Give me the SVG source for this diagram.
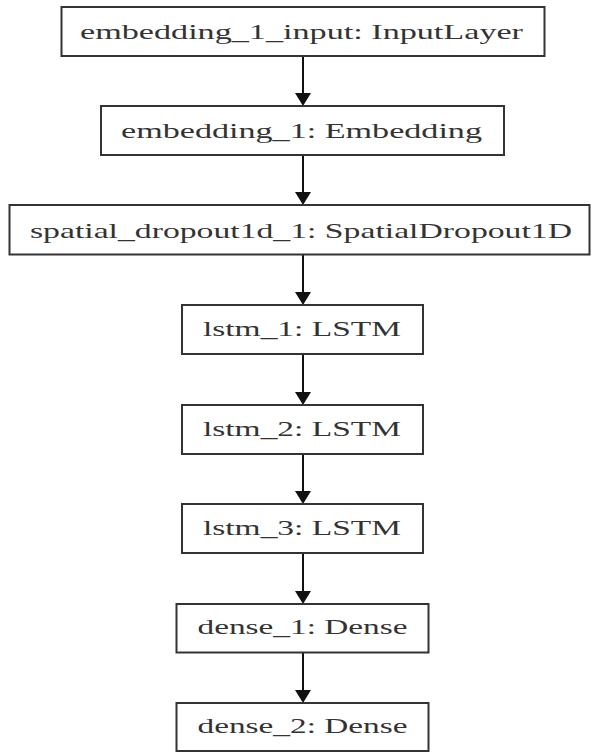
<svg xmlns="http://www.w3.org/2000/svg" width="592" height="752" viewBox="0 0 592 752">
<style>
  .box { fill: #ffffff; stroke: #333333; stroke-width: 2; }
  .lbl { font-family: "Liberation Serif", "Times New Roman", serif; font-size: 21px; fill: #333333; text-anchor: middle; }
  .edge { stroke: #111111; stroke-width: 2; fill: none; }
  .head { fill: #111111; stroke: none; }
</style>
<rect x="0" y="0" width="592" height="752" fill="#ffffff"/>
<g id="connectors">
  <line class="edge" x1="303" y1="56" x2="303" y2="94"/>
  <polygon class="head" points="295,93 311,93 303,106"/>
  <line class="edge" x1="303" y1="155" x2="303" y2="193"/>
  <polygon class="head" points="295,192 311,192 303,205"/>
  <line class="edge" x1="303" y1="254.5" x2="303" y2="293"/>
  <polygon class="head" points="295,292 311,292 303,305"/>
  <line class="edge" x1="303" y1="354" x2="303" y2="393"/>
  <polygon class="head" points="295,392 311,392 303,405"/>
  <line class="edge" x1="303" y1="454" x2="303" y2="492"/>
  <polygon class="head" points="295,491 311,491 303,504"/>
  <line class="edge" x1="303" y1="553" x2="303" y2="592"/>
  <polygon class="head" points="295,591 311,591 303,604"/>
  <line class="edge" x1="303" y1="652.5" x2="303" y2="691"/>
  <polygon class="head" points="295,690 311,690 303,703"/>
</g>
<g id="embedding_1_input">
  <rect class="box" x="61.5" y="7" width="483" height="49"/>
  <text class="lbl" x="301.5" y="39" textLength="443" lengthAdjust="spacingAndGlyphs">embedding_1_input: InputLayer</text>
</g>
<g id="embedding_1">
  <rect class="box" x="101" y="106" width="403" height="49"/>
  <text class="lbl" x="301.5" y="137.5" textLength="361" lengthAdjust="spacingAndGlyphs">embedding_1: Embedding</text>
</g>
<g id="spatial_dropout1d_1">
  <rect class="box" x="9.5" y="205" width="580" height="49.5"/>
  <text class="lbl" x="301" y="237.5" textLength="542" lengthAdjust="spacingAndGlyphs">spatial_dropout1d_1: SpatialDropout1D</text>
</g>
<g id="lstm_1">
  <rect class="box" x="182" y="305" width="241" height="49"/>
  <text class="lbl" x="302" y="336" textLength="198" lengthAdjust="spacingAndGlyphs">lstm_1: LSTM</text>
</g>
<g id="lstm_2">
  <rect class="box" x="182" y="405" width="241" height="49"/>
  <text class="lbl" x="302" y="436" textLength="198" lengthAdjust="spacingAndGlyphs">lstm_2: LSTM</text>
</g>
<g id="lstm_3">
  <rect class="box" x="182" y="504" width="241" height="49"/>
  <text class="lbl" x="302" y="535" textLength="198" lengthAdjust="spacingAndGlyphs">lstm_3: LSTM</text>
</g>
<g id="dense_1">
  <rect class="box" x="176.5" y="604" width="252" height="48.5"/>
  <text class="lbl" x="302.5" y="634" textLength="210" lengthAdjust="spacingAndGlyphs">dense_1: Dense</text>
</g>
<g id="dense_2">
  <rect class="box" x="176.5" y="703" width="252" height="48"/>
  <text class="lbl" x="302.5" y="732.5" textLength="210" lengthAdjust="spacingAndGlyphs">dense_2: Dense</text>
</g>
</svg>
